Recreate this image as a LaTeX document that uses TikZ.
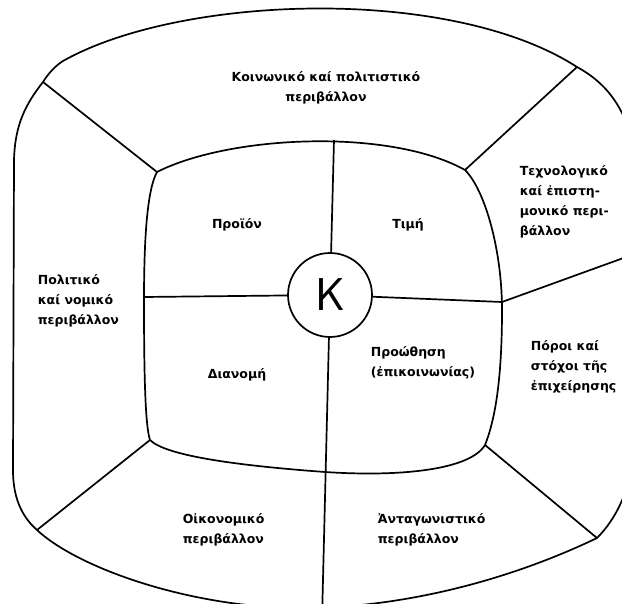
\documentclass[tikz,border=0pt]{standalone}
\usepackage{fontspec}
\setmainfont{DejaVu Sans}
\usetikzlibrary{calc}

\begin{document}
\begin{tikzpicture}[x=1pt, y=-1pt, line width=1.7pt,
  lbl/.style={font=\fontsize{12.5}{20}\selectfont\bfseries, inner sep=0pt}]

\clip (0,0) rectangle (622,604);

\coordinate (OTL) at (43,82);
\coordinate (OTR) at (577,67);
\coordinate (ORt) at (640,252);
\coordinate (OBR) at (597,538);
\coordinate (OBL) at (37,530);
\coordinate (OBt) at (322,620);

\coordinate (ITL) at (157,172);
\coordinate (ITR) at (465,170);
\coordinate (IBR) at (485,445);
\coordinate (IBL) at (150,440);
\coordinate (ITop) at (334,140);
\coordinate (IRt) at (502,302);
\coordinate (ILt) at (144,297);

% outer ring
\draw (OTL) .. controls (48,74) and (55,66) .. (63,61)
  .. controls (180,-5) and (450,-15) .. (OTR)
  .. controls (610,85) and (632,115) .. (636,170)
  -- (636,440)
  .. controls (632,490) and (615,520) .. (OBR)
  .. controls (520,575) and (420,605) .. (315,608)
  .. controls (200,611) and (80,570) .. (OBL)
  .. controls (20,515) and (13,495) .. (13,470)
  -- (14,160)
  .. controls (15,125) and (25,105) .. (OTL) -- cycle;

% inner square
\draw (ITL) .. controls (230,135) and (390,128) .. (ITR)
  .. controls (485,190) and (502,250) .. (502,310)
  .. controls (502,380) and (495,420) .. (IBR)
  .. controls (470,470) and (400,477) .. (325,472)
  .. controls (230,465) and (165,455) .. (IBL)
  .. controls (145,425) and (144,370) .. (144,300)
  .. controls (144,240) and (147,190) .. (ITL) -- cycle;

\node[draw, circle, minimum size=84pt, inner sep=0pt, fill=white,
  font=\sffamily\fontsize{46}{46}\selectfont] (K) at (330,295) {K};

\draw (ITop) -- (K);
\draw (ILt) -- (K);
\draw (K) -- (IRt);
\draw (K) -- (OBt);

\draw (ITL) -- (OTL);
\draw (ITR) -- (OTR);
\draw (IRt) -- (ORt);
\draw (IBR) -- (OBR);
\draw (IBL) -- (OBL);

\node[lbl, align=center] (social) at (326,88) {Κοινωνικό καί πολιτιστικό\\περιβάλλον};
\node[lbl, align=left, anchor=west] (tech) at (519,202) {Τεχνολογικό\\καί ἐπιστη-\\μονικό περι-\\βάλλον};
\node[lbl, align=left, anchor=west] (polit) at (37,301) {Πολιτικό\\καί νομικό\\περιβάλλον};
\node[lbl, align=left, anchor=west] (resources) at (530,367) {Πόροι καί\\στόχοι τῆς\\ἐπιχείρησης};

\node[lbl] (product) at (237,225) {Προϊόν};
\node[lbl] (price) at (408,225) {Τιμή};
\node[lbl] (place) at (237,375) {Διανομή};
\node[lbl, align=left, anchor=west] (promo) at (370,363) {Προώθηση\\(ἐπικοινωνίας)};

\node[lbl, align=left, anchor=west] (econ) at (182,530) {Οἰκονομικό\\περιβάλλον};
\node[lbl, align=left, anchor=west] (compet) at (377,530) {Ἀνταγωνιστικό\\περιβάλλον};

\end{tikzpicture}
\end{document}
